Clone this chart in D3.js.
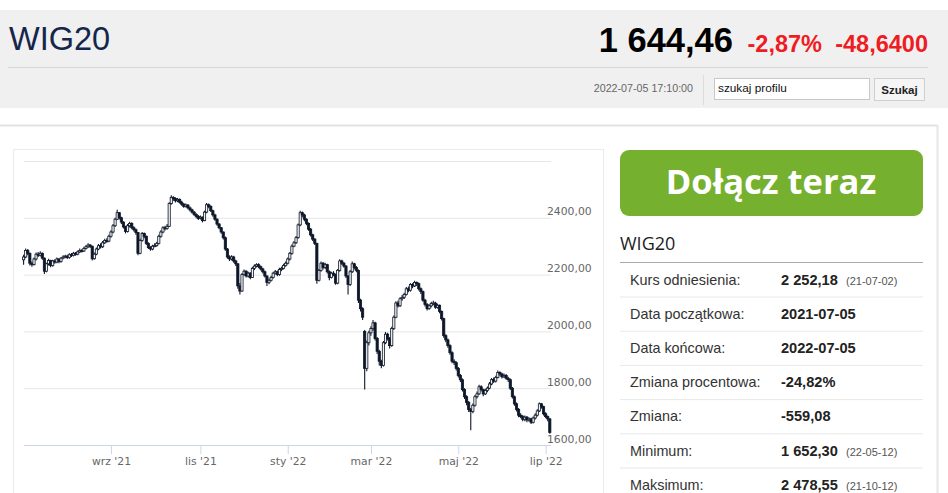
<!DOCTYPE html>
<html><head><meta charset="utf-8">
<script src="https://cdn.jsdelivr.net/npm/d3@7"></script>
<style>
html,body{margin:0;padding:0;background:#fff;overflow:hidden}
svg{display:block}
</style></head>
<body>
<svg id="c" width="948" height="493"></svg>
<script>
// ---------- DATA ----------
const open = [2252,2262,2285,2275,2240,2235,2255,2272,2268,2275,2258,2212,2238,2250,2232,2248,2244,2255,2246,2258,2262,2265,2260,2270,2268,2275,2272,2280,2285,2283,2292,2298,2304,2300,2256,2272,2290,2302,2298,2312,2320,2318,2335,2350,2372,2395,2418,2400,2385,2368,2352,2372,2380,2365,2358,2348,2275,2320,2345,2335,2310,2295,2290,2300,2302,2310,2335,2350,2365,2362,2370,2450,2472,2468,2460,2465,2455,2448,2440,2445,2435,2428,2420,2412,2405,2398,2402,2390,2420,2446,2440,2425,2410,2395,2378,2365,2350,2330,2290,2262,2255,2262,2248,2238,2160,2142,2200,2212,2195,2205,2190,2222,2230,2235,2228,2220,2210,2195,2172,2180,2190,2205,2210,2200,2218,2222,2232,2240,2255,2275,2300,2312,2330,2375,2418,2410,2395,2380,2360,2340,2325,2310,2180,2215,2240,2225,2235,2210,2190,2205,2200,2170,2215,2248,2240,2230,2195,2165,2210,2238,2225,2215,2110,2080,2000,1870,1960,1995,2010,2030,1975,1930,1895,1880,1960,1990,1975,1950,2010,2050,2100,2090,2115,2120,2130,2150,2145,2165,2160,2172,2168,2150,2140,2110,2095,2080,2090,2098,2100,2085,2092,2070,2045,1985,1970,1950,1925,1895,1890,1870,1845,1830,1795,1770,1750,1725,1718,1740,1770,1780,1805,1795,1780,1792,1800,1815,1830,1825,1838,1855,1850,1840,1845,1835,1830,1800,1770,1745,1725,1705,1700,1690,1698,1688,1692,1680,1695,1705,1720,1745,1735,1710,1700,1692];
const high = [2270,2292,2290,2278,2246,2260,2278,2280,2282,2278,2260,2242,2256,2252,2252,2254,2260,2258,2262,2268,2270,2270,2275,2276,2280,2280,2285,2292,2290,2298,2304,2310,2308,2302,2278,2295,2308,2310,2318,2326,2328,2340,2356,2378,2400,2428,2420,2404,2388,2372,2378,2386,2384,2370,2362,2350,2326,2350,2348,2338,2314,2300,2305,2310,2316,2340,2356,2370,2372,2378,2455,2479,2476,2472,2470,2468,2460,2452,2450,2448,2440,2432,2424,2416,2410,2408,2405,2425,2452,2450,2444,2428,2414,2398,2382,2368,2352,2334,2294,2268,2268,2266,2252,2240,2170,2206,2218,2215,2210,2208,2228,2236,2240,2240,2232,2224,2214,2198,2186,2196,2210,2216,2214,2224,2228,2238,2246,2260,2280,2306,2318,2336,2380,2425,2422,2414,2398,2384,2364,2344,2328,2312,2220,2246,2244,2242,2238,2214,2210,2212,2204,2220,2254,2252,2244,2234,2198,2216,2246,2242,2230,2218,2115,2085,2005,1968,2002,2018,2040,2034,1980,1935,1900,1966,1998,1995,1980,2016,2056,2106,2108,2120,2128,2136,2156,2158,2170,2170,2178,2176,2172,2155,2144,2115,2100,2096,2104,2108,2104,2098,2095,2074,2048,1990,1975,1955,1930,1902,1895,1875,1850,1834,1800,1775,1755,1730,1746,1776,1788,1812,1810,1798,1798,1806,1822,1836,1838,1844,1862,1860,1854,1852,1850,1840,1834,1804,1774,1750,1730,1712,1706,1704,1702,1698,1696,1700,1712,1726,1750,1748,1738,1715,1704,1694];
const low = [2235,2258,2268,2232,2228,2232,2250,2262,2264,2252,2202,2208,2232,2226,2228,2238,2240,2240,2242,2254,2258,2255,2256,2262,2264,2266,2268,2276,2278,2280,2288,2294,2294,2250,2252,2268,2286,2292,2294,2308,2312,2314,2330,2346,2368,2392,2394,2378,2362,2345,2348,2366,2360,2352,2340,2268,2272,2316,2328,2304,2290,2284,2286,2296,2298,2306,2330,2346,2355,2358,2368,2446,2460,2454,2455,2450,2442,2435,2436,2430,2422,2414,2406,2398,2392,2394,2384,2388,2416,2434,2420,2404,2390,2372,2360,2344,2324,2284,2256,2248,2250,2242,2230,2150,2130,2140,2196,2190,2190,2184,2188,2216,2225,2222,2214,2204,2190,2160,2166,2176,2186,2200,2194,2196,2212,2218,2228,2236,2250,2270,2296,2308,2326,2370,2402,2388,2374,2354,2334,2318,2304,2168,2176,2210,2218,2220,2204,2180,2186,2194,2164,2166,2210,2234,2224,2188,2130,2160,2206,2218,2208,2100,2070,2040,1795,1860,1950,1985,2002,1968,1920,1880,1870,1876,1955,1968,1940,1946,2005,2046,2084,2086,2108,2114,2126,2138,2140,2152,2156,2160,2144,2132,2104,2088,2074,2076,2084,2092,2080,2080,2064,2038,1978,1962,1942,1918,1888,1882,1862,1838,1822,1788,1762,1740,1716,1652,1712,1735,1764,1776,1788,1772,1776,1786,1796,1810,1818,1820,1834,1842,1834,1836,1830,1822,1794,1764,1738,1718,1698,1694,1684,1684,1680,1682,1674,1676,1690,1700,1716,1728,1704,1694,1684,1640];
const close = [2262,2285,2275,2240,2235,2255,2272,2268,2275,2258,2212,2238,2250,2232,2248,2244,2255,2246,2258,2262,2265,2260,2270,2268,2275,2272,2280,2285,2283,2292,2298,2304,2300,2256,2272,2290,2302,2298,2312,2320,2318,2335,2350,2372,2395,2418,2400,2385,2368,2352,2372,2380,2365,2358,2348,2275,2320,2345,2335,2310,2295,2290,2300,2302,2310,2335,2350,2365,2362,2370,2450,2472,2468,2460,2465,2455,2448,2440,2445,2435,2428,2420,2412,2405,2398,2402,2390,2420,2446,2440,2425,2410,2395,2378,2365,2350,2330,2290,2262,2255,2262,2248,2238,2160,2142,2200,2212,2195,2205,2190,2222,2230,2235,2228,2220,2210,2195,2172,2180,2190,2205,2210,2200,2218,2222,2232,2240,2255,2275,2300,2312,2330,2375,2418,2410,2395,2380,2360,2340,2325,2310,2180,2215,2240,2225,2235,2210,2190,2205,2200,2170,2215,2248,2240,2230,2195,2165,2210,2238,2225,2215,2110,2080,2050,1870,1960,1995,2010,2030,1975,1930,1895,1880,1960,1990,1975,1950,2010,2050,2100,2090,2115,2120,2130,2150,2145,2165,2160,2172,2168,2150,2140,2110,2095,2080,2090,2098,2100,2085,2092,2070,2045,1985,1970,1950,1925,1895,1890,1870,1845,1830,1795,1770,1750,1725,1718,1740,1770,1780,1805,1795,1780,1792,1800,1815,1830,1825,1838,1855,1850,1840,1845,1835,1830,1800,1770,1745,1725,1705,1700,1690,1698,1688,1692,1680,1695,1705,1720,1745,1735,1710,1700,1692,1644];
// first trading day of each labelled month (index into the series)
const tickIdx = [42, 85, 127, 167, 209, 251];
const tickLabels = ["wrz '21", "lis '21", "sty '22", "mar '22", "maj '22", "lip '22"];
const yTicks = [1600, 1800, 2000, 2200, 2400, 2600];
const statLabels = ["Kurs odniesienia:", "Data początkowa:", "Data końcowa:", "Zmiana procentowa:", "Zmiana:", "Minimum:", "Maksimum:"];
const statValues = ["2 252,18", "2021-07-05", "2022-07-05", "-24,82%", "-559,08", "1 652,30", "2 478,55"];
const statNotes = ["(21-07-02)", "", "", "", "", "(22-05-12)", "(21-10-12)"];

// ---------- PAGE ----------
const svg = d3.select("#c");
const sans = "'Liberation Sans',Arial,sans-serif";

// header
svg.append("rect").attr("x",0).attr("y",10).attr("width",948).attr("height",98).attr("fill","#f0f0f0");
svg.append("text").attr("x",9).attr("y",50).attr("font-family",sans).attr("font-size",32.5)
  .attr("fill","#14264a").text("WIG20");
svg.append("text").attr("x",733).attr("y",52).attr("text-anchor","end").attr("font-family",sans)
  .attr("font-size",34.5).attr("font-weight","bold").attr("fill","#000").text("1 644,46");
svg.append("text").attr("x",822).attr("y",52).attr("text-anchor","end").attr("font-family",sans)
  .attr("font-size",23.5).attr("font-weight","bold").attr("fill","#ee1d23").text("-2,87%");
svg.append("text").attr("x",928).attr("y",52).attr("text-anchor","end").attr("font-family",sans)
  .attr("font-size",23.5).attr("font-weight","bold").attr("fill","#ee1d23").text("-48,6400");
svg.append("line").attr("x1",8).attr("x2",928).attr("y1",67.5).attr("y2",67.5).attr("stroke","#d6d6d6");
svg.append("text").attr("x",693).attr("y",92).attr("text-anchor","end").attr("font-family",sans)
  .attr("font-size",10.7).attr("fill","#666").text("2022-07-05 17:10:00");
svg.append("line").attr("x1",703.5).attr("x2",703.5).attr("y1",75).attr("y2",105).attr("stroke","#dcdcdc");
svg.append("rect").attr("x",714.5).attr("y",78.5).attr("width",155).attr("height",21).attr("fill","#fff").attr("stroke","#c8c8c8");
svg.append("text").attr("x",718).attr("y",92).attr("font-family",sans).attr("font-size",11.8).attr("fill","#111").text("szukaj profilu");
svg.append("rect").attr("x",874.5).attr("y",78.5).attr("width",50).attr("height",22).attr("fill","#f5f5f5").attr("stroke","#cfcfcf");
svg.append("text").attr("x",899.5).attr("y",93.5).attr("text-anchor","middle").attr("font-family",sans)
  .attr("font-size",11.5).attr("font-weight","bold").attr("fill","#222").text("Szukaj");

// page panel borders
svg.append("line").attr("x1",0).attr("x2",937).attr("y1",125.5).attr("y2",125.5).attr("stroke","#e3e3e3").attr("stroke-width",2);
svg.append("line").attr("x1",937.5).attr("x2",937.5).attr("y1",125).attr("y2",493).attr("stroke","#e6e6e6").attr("stroke-width",2);
svg.append("rect").attr("x",13.5).attr("y",149.5).attr("width",590).attr("height",360).attr("fill","#fff").attr("stroke","#ebebeb");

// ---------- CHART ----------
const x = d3.scaleLinear().domain([0, close.length - 1]).range([23.6, 549.8]);
const y = d3.scaleLinear().domain([1600, 2600]).range([445, 161]);
const fmt = v => d3.format(".2f")(v).replace(".", ",");

const gy = svg.append("g").attr("transform","translate(24,0)")
  .call(d3.axisRight(y).tickValues(yTicks).tickSize(527).tickFormat(fmt));
gy.select(".domain").remove();
gy.selectAll(".tick line").attr("stroke", d => d === 1600 ? "none" : "#e6e6e6");
gy.selectAll(".tick text").attr("x",523).attr("dy",-3).attr("text-anchor","start")
  .attr("font-family","'DejaVu Sans',Verdana,sans-serif").attr("font-size",10.8).attr("fill","#666")
  .style("display", d => d === 2600 ? "none" : null);

const gx = svg.append("g").attr("transform","translate(0,445)")
  .call(d3.axisBottom(x).tickValues(tickIdx).tickSize(9).tickFormat((d,i) => tickLabels[i]));
gx.select(".domain").attr("d","M24,0.5H551").attr("stroke","#ccd6eb");
gx.selectAll(".tick line").attr("stroke","#ccd6eb");
gx.selectAll(".tick text").attr("y",12).attr("font-family","'DejaVu Sans',Verdana,sans-serif")
  .attr("font-size",10.8).attr("fill","#666");

const idx = d3.range(close.length);
const dark = "#0e1729";
const cg = svg.append("g");
cg.selectAll("line.w").data(idx).join("line")
  .attr("x1", i => x(i)).attr("x2", i => x(i))
  .attr("y1", i => y(high[i])).attr("y2", i => y(low[i]))
  .attr("stroke", dark).attr("stroke-width", 1.1);
cg.selectAll("rect.b").data(idx).join("rect")
  .attr("x", i => x(i) - 1.1).attr("width", 2.2)
  .attr("y", i => y(Math.max(open[i], close[i])))
  .attr("height", i => Math.max(1, Math.abs(y(open[i]) - y(close[i]))))
  .attr("fill", i => close[i] >= open[i] ? "#f4f4f4" : dark)
  .attr("stroke", dark).attr("stroke-width", 0.8);

// ---------- RIGHT PANEL ----------
svg.append("rect").attr("x",620).attr("y",150).attr("width",303).attr("height",66).attr("rx",9).attr("fill","#76b02f");
svg.append("text").attr("x",771).attr("y",194).attr("text-anchor","middle")
  .attr("font-family","'Open Sans',sans-serif").attr("font-weight","bold").attr("font-size",34.5)
  .attr("fill","#fff").text("Dołącz teraz");
svg.append("text").attr("x",620).attr("y",250).attr("font-family","'Open Sans',sans-serif")
  .attr("font-size",18).attr("font-weight",500).attr("fill","#1d1d1d").text("WIG20");
svg.append("line").attr("x1",620).attr("x2",923).attr("y1",262.5).attr("y2",262.5).attr("stroke","#a9a9a9");

const rowY = d3.scaleLinear().domain([0, 1]).range([284.5, 318.7]);
const rows = svg.append("g").selectAll("g").data(statLabels).join("g");
rows.append("text").attr("x",630).attr("y",(d,i)=>rowY(i)).attr("font-family",sans).attr("font-size",14.4)
  .attr("fill","#333").text(d=>d);
rows.append("text").attr("x",781).attr("y",(d,i)=>rowY(i)).attr("font-family",sans).attr("font-size",14.6)
  .attr("font-weight","bold").attr("fill","#222").text((d,i)=>statValues[i]);
rows.append("text").attr("x",846).attr("y",(d,i)=>rowY(i)).attr("font-family",sans).attr("font-size",11)
  .attr("fill","#555").text((d,i)=>statNotes[i]);
rows.filter((d,i)=>i<statLabels.length-1).append("line")
  .attr("x1",620).attr("x2",923).attr("y1",(d,i)=>rowY(i)+12.5).attr("y2",(d,i)=>rowY(i)+12.5)
  .attr("stroke","#e8e8e8");
</script>
</body></html>
